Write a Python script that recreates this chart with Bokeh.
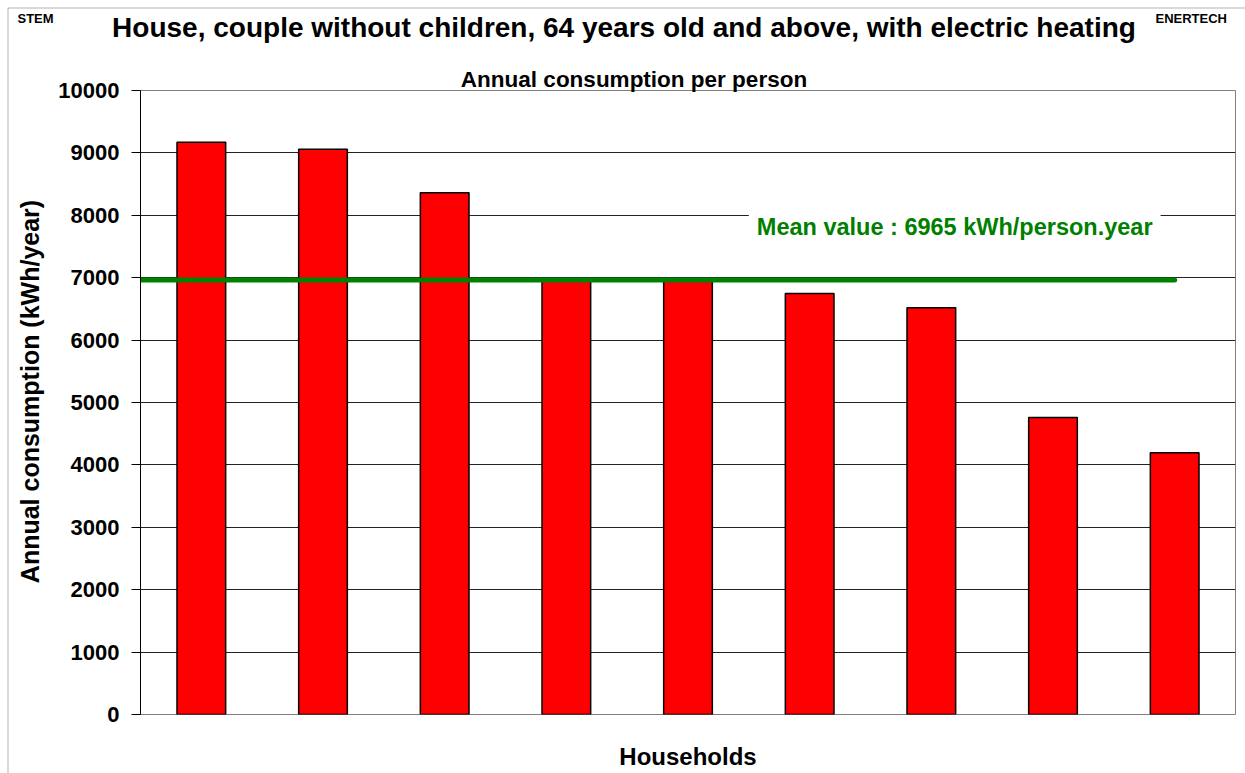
import math
from bokeh.plotting import figure
from bokeh.models import Label, Range1d, FixedTicker, BoxAnnotation
from bokeh.embed import file_html
from bokeh.resources import INLINE

households = ["1", "2", "3", "4", "5", "6", "7", "8", "9"]
consumption = [9170, 9060, 8360, 6950, 6950, 6745, 6520, 4760, 4195]
mean_value = 6965
y_ticks = [0, 1000, 2000, 3000, 4000, 5000, 6000, 7000, 8000, 9000, 10000]

title_text = "House, couple without children, 64 years old and above, with electric heating"
subtitle_text = "Annual consumption per person"
left_tag = "STEM"
right_tag = "ENERTECH"
x_label = "Households"
y_label = "Annual consumption (kWh/year)"
mean_text = "Mean value : %d kWh/person.year" % mean_value

FONT = "Liberation Sans"
W, H = 1245, 773
FL, FR, FT, FB = 140, 1235, 90, 714  # plot frame edges (page px)
BASE_SHIFT = 0.35  # renderer draws "alphabetic" text about 0.35 em low

# ---------- main chart ----------
p = figure(width=W, height=H, output_backend="svg", toolbar_location=None,
           title=None, x_axis_location=None,
           x_range=Range1d(0, len(households)), y_range=Range1d(0, y_ticks[-1]),
           min_border_left=FL, min_border_right=W - FR, min_border_top=FT,
           min_border_bottom=H - FB,
           background_fill_color="white", border_fill_color="white")

p.outline_line_color = "#808080"
p.outline_line_width = 1
p.xgrid.visible = False
p.ygrid.ticker = FixedTicker(ticks=y_ticks)
p.ygrid.grid_line_color = "#222222"
p.ygrid.grid_line_width = 1

ax = p.yaxis[0]
ax.ticker = FixedTicker(ticks=y_ticks)
ax.major_tick_out = 9
ax.major_tick_in = 0
ax.minor_tick_line_color = None
ax.axis_line_color = "black"
ax.major_tick_line_color = "black"
ax.major_label_text_font = FONT
ax.major_label_text_font_style = "bold"
ax.major_label_text_font_size = "22px"
ax.major_label_text_color = "black"
ax.major_label_standoff = 12

xs = [i + 0.5 for i in range(len(households))]
p.vbar(x=xs, top=consumption, width=0.4, bottom=0,
       fill_color="#FF0000", line_color="black", line_width=1.5)

p.line([0, xs[-1]], [mean_value, mean_value], line_color="#008000", line_width=5,
       line_cap="round")

p.add_layout(Label(x=5.0, y=7815, text=mean_text, text_font=FONT, text_font_style="bold",
                   text_font_size="23.5px", text_color="#008000", text_align="left",
                   text_baseline="alphabetic", background_fill_color="white",
                   padding=8))

# ---------- transparent overlay carrying the surrounding texts ----------
o = figure(width=W, height=H, output_backend="svg", toolbar_location=None,
           title=None, x_axis_location=None, y_axis_location=None,
           x_range=Range1d(0, W), y_range=Range1d(0, H),
           min_border=0, min_border_left=0, min_border_right=0,
           min_border_top=0, min_border_bottom=0,
           background_fill_color=None, border_fill_color=None)
o.grid.visible = False
o.outline_line_color = None
o.styles = {"position": "absolute", "left": "0px", "top": "0px"}

# outer chart border (left and top edges)
o.add_layout(BoxAnnotation(left=7.5, right=W + 20, top=H - 7.5, bottom=-20,
                           fill_color=None, line_color="black", line_width=1))


def page_label(text, px, py, size, align="left", angle=0.0):
    shift = BASE_SHIFT * size
    if angle:
        px, py = px - shift, py
    else:
        py = py - shift
    o.add_layout(Label(x=px, y=H - py, text=text, text_font=FONT,
                       text_font_style="bold", text_font_size="%gpx" % size,
                       text_color="black", text_align=align,
                       text_baseline="alphabetic", angle=angle))


page_label(title_text, 623.5, 37, 28, align="center")
page_label(left_tag, 17, 23, 13)
page_label(right_tag, 1155, 23, 13)
page_label(subtitle_text, 633.5, 87, 22.5, align="center")
page_label(x_label, 687.5, 764, 24, align="center")
page_label(y_label, 38, 391, 25, align="center", angle=math.pi / 2)

open("out.html", "w").write(file_html([p, o], INLINE))
